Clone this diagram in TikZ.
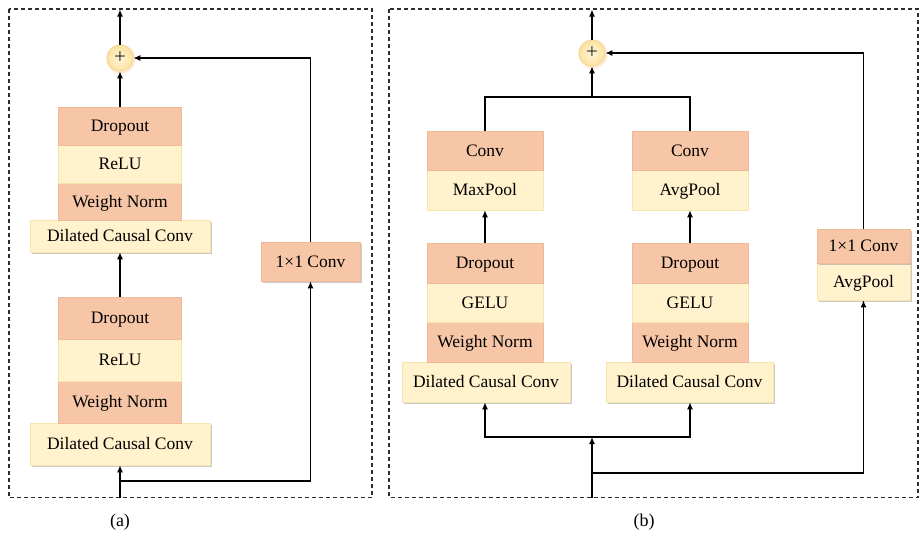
\documentclass[tikz,border=0pt]{standalone}
\usepackage{fontspec}
\setmainfont{Liberation Serif}
\usetikzlibrary{arrows.meta,shadows}
\definecolor{salmon}{HTML}{F7C6A7}
\definecolor{salmonedge}{HTML}{F0BA98}
\definecolor{cream}{HTML}{FFF2CC}
\definecolor{creamedge}{HTML}{F8E4AE}
\definecolor{suminner}{HTML}{FFF5D6}
\definecolor{sumouter}{HTML}{FBE2A0}
\definecolor{sumedge}{HTML}{F2D38A}
\definecolor{frame}{HTML}{2E2E2E}
\begin{document}
\begin{tikzpicture}[x=1pt,y=-1pt,
  every node/.style={font=\fontsize{17.5}{20}\selectfont, inner sep=0pt},
  layer/.style={rectangle, line width=0.5pt, text height=11.5pt, text depth=0pt},
  layerS/.style={layer, fill=salmon, draw=salmonedge},
  layerY/.style={layer, fill=cream, draw=creamedge},
  shade/.style={drop shadow={shadow xshift=2.2pt, shadow yshift=-2.2pt, opacity=0.35, fill=black!60}},
  sumnode/.style={circle, minimum size=26pt, inner color=suminner, outer color=sumouter,
    draw=sumedge, line width=0.6pt, text=black!85,
    font=\fontsize{21}{21}\selectfont,
    drop shadow={shadow xshift=0.8pt, shadow yshift=-0.8pt, shadow scale=1.12, opacity=0.35, fill=orange!50}},
  link/.style={line width=1.5pt, draw=black},
  arr/.style={link, -{Latex[length=7pt,width=6pt]}},
  panel/.style={draw=frame, line width=1.1pt, dash pattern=on 4pt off 3pt},
  caption/.style={font=\fontsize{18}{20}\selectfont}]
\useasboundingbox (0,0) rectangle (919,538);

% ---------------- panel (a): TCN residual block ----------------
\draw[panel] (9,9) rectangle (372,497.5);

\node[sumnode] (a_sum) at (120,58) {+};

% upper stack
\node[layerY, shade, minimum width=180pt, minimum height=32pt] (a_dc1) at (120,236) {Dilated Causal Conv};
\node[layerS, minimum width=123pt, minimum height=37pt] (a_wn1) at (120,201.5) {Weight Norm};
\node[layerY, minimum width=123pt, minimum height=38pt] (a_re1) at (120,164) {ReLU};
\node[layerS, minimum width=123pt, minimum height=38pt] (a_do1) at (120,126) {Dropout};

% lower stack
\node[layerY, shade, minimum width=180pt, minimum height=42pt] (a_dc2) at (120,444) {Dilated Causal Conv};
\node[layerS, minimum width=123pt, minimum height=42pt] (a_wn2) at (120,402) {Weight Norm};
\node[layerY, minimum width=123pt, minimum height=42pt] (a_re2) at (120,360) {ReLU};
\node[layerS, minimum width=123pt, minimum height=42pt] (a_do2) at (120,318) {Dropout};

% shortcut
\node[layerS, shade, minimum width=99pt, minimum height=39pt] (a_conv) at (310.5,261.5) {1×1 Conv};

\coordinate (a_in) at (120,497.5);
\coordinate (a_br) at (120,481);
\coordinate (a_out) at (120,9.5);

\draw[arr] (a_in) -- (a_dc2.south);
\draw[arr] (a_br) -| (a_conv.south);
\draw[arr] (a_do2.north) -- (a_dc1.south);
\draw[arr] (a_do1.north) -- (a_sum.south);
\draw[arr] (a_conv.north) |- (a_sum.east);
\draw[arr] (a_sum.north) -- (a_out);

\node[caption] (a_cap) at (120,522) {(a)};

% ---------------- panel (b): two-branch block ----------------
\draw[panel] (389,9) rectangle (918,497.5);

\node[sumnode] (b_sum) at (592,53) {+};

% left branch
\node[layerY, shade, minimum width=168pt, minimum height=40pt] (b_dc1) at (486,382) {Dilated Causal Conv};
\node[layerS, minimum width=116pt, minimum height=40pt] (b_wn1) at (485,342) {Weight Norm};
\node[layerY, minimum width=116pt, minimum height=39pt] (b_ge1) at (485,302.5) {GELU};
\node[layerS, minimum width=116pt, minimum height=40pt] (b_do1) at (485,263) {Dropout};
\node[layerY, minimum width=116pt, minimum height=40pt] (b_mp1) at (485,190) {MaxPool};
\node[layerS, minimum width=116pt, minimum height=39pt] (b_cv1) at (485,150.5) {Conv};

% right branch
\node[layerY, shade, minimum width=167pt, minimum height=40pt] (b_dc2) at (689.5,382) {Dilated Causal Conv};
\node[layerS, minimum width=116pt, minimum height=40pt] (b_wn2) at (690,342) {Weight Norm};
\node[layerY, minimum width=116pt, minimum height=39pt] (b_ge2) at (690,302.5) {GELU};
\node[layerS, minimum width=116pt, minimum height=40pt] (b_do2) at (690,263) {Dropout};
\node[layerY, minimum width=116pt, minimum height=40pt] (b_ap2) at (690,190) {AvgPool};
\node[layerS, minimum width=116pt, minimum height=39pt] (b_cv2) at (690,150.5) {Conv};

% shortcut
\node[layerY, shade, minimum width=93pt, minimum height=37pt] (b_sap) at (863.5,281.5) {AvgPool};
\node[layerS, shade, minimum width=93pt, minimum height=34pt] (b_sconv) at (863.5,246) {1×1 Conv};

\coordinate (b_in) at (592,497.5);
\coordinate (b_split) at (592,437);
\coordinate (b_br) at (592,473);
\coordinate (b_merge) at (592,97);
\coordinate (b_out) at (592,9.5);

\draw[arr] (b_in) -- (b_split);
\draw[arr] (b_split) -| (b_dc1.south -| b_do1.south);
\draw[arr] (b_split) -| (b_dc2.south -| b_do2.south);
\draw[arr] (b_br) -| (b_sap.south);
\draw[arr] (b_do1.north) -- (b_mp1.south);
\draw[arr] (b_do2.north) -- (b_ap2.south);
\draw[link] (b_cv1.north) |- (b_merge) -| (b_cv2.north);
\draw[arr] (b_merge) -- (b_sum.south);
\draw[arr] (b_sconv.north) |- (b_sum.east);
\draw[arr] (b_sum.north) -- (b_out);

\node[caption] (b_cap) at (644,522) {(b)};
\end{tikzpicture}
\end{document}
